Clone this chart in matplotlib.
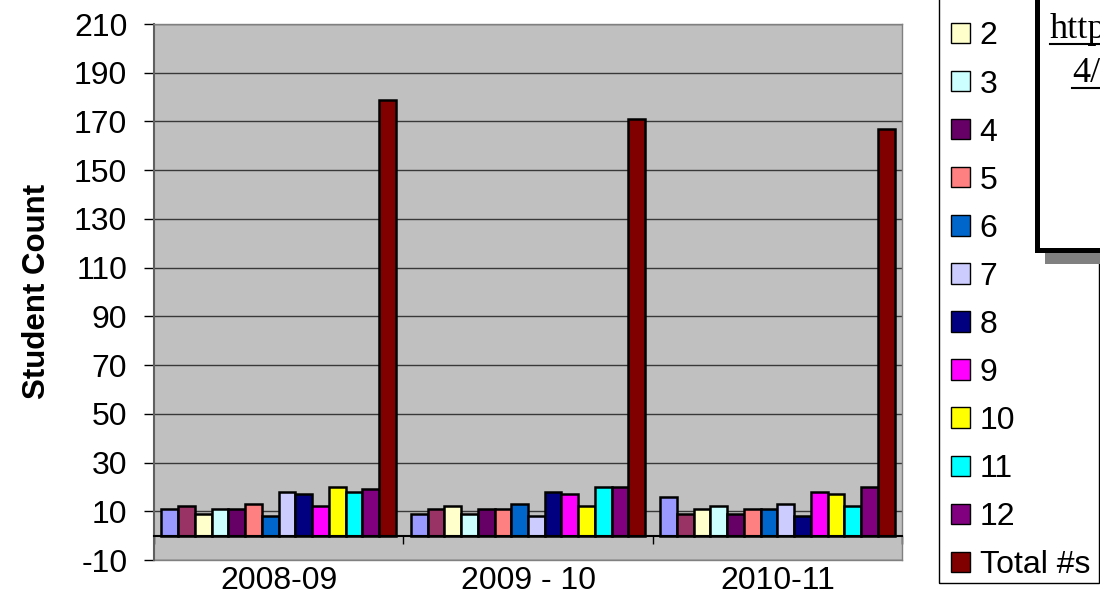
import matplotlib
matplotlib.use('Agg')
import matplotlib.pyplot as plt
from matplotlib.patches import Rectangle
from matplotlib.lines import Line2D
import numpy as np

plt.rcParams['font.family'] = ['Liberation Sans', 'DejaVu Sans']
plt.rcParams['axes.unicode_minus'] = False

categories = ['2008-09', '2009 - 10', '2010-11']
series_names = ['K', '1', '2', '3', '4', '5', '6', '7', '8', '9', '10', '11', '12', 'Total #s']
grade_K = [11, 9, 16]
grade_1 = [12, 11, 9]
grade_2 = [9, 12, 11]
grade_3 = [11, 9, 12]
grade_4 = [11, 11, 9]
grade_5 = [13, 11, 11]
grade_6 = [8, 13, 11]
grade_7 = [18, 8, 13]
grade_8 = [17, 18, 8]
grade_9 = [12, 17, 18]
grade_10 = [20, 12, 17]
grade_11 = [18, 20, 12]
grade_12 = [19, 20, 20]
total_counts = [179, 171, 167]
series_values = [grade_K, grade_1, grade_2, grade_3, grade_4, grade_5, grade_6,
                 grade_7, grade_8, grade_9, grade_10, grade_11, grade_12, total_counts]
series_colors = ['#9999FF', '#993366', '#FFFFCC', '#CCFFFF', '#660066', '#FF8080',
                 '#0066CC', '#CCCCFF', '#000080', '#FF00FF', '#FFFF00', '#00FFFF',
                 '#800080', '#800000']
y_ticks = list(range(-10, 211, 20))
# the legend's first entries (K, 1) lie above the visible area in the reference
first_visible_legend_entry = 2

W, H = 1100, 598
fig = plt.figure(figsize=(11, 5.98), dpi=100)
fig.patch.set_facecolor('white')

ax = fig.add_axes([154 / W, 1 - 560 / H, 748 / W, 536 / H])
ax.set_facecolor('#C0C0C0')

n = len(series_names)
span = 0.94
bw = span / n
x = np.arange(len(categories))
handles = []
for k, (name, vals, col) in enumerate(zip(series_names, series_values, series_colors)):
    b = ax.bar(x - span / 2 + bw * (k + 0.5), vals, width=bw, color=col,
               edgecolor='black', linewidth=1.8, zorder=3, label=name)
    handles.append(b)

ax.set_xlim(-0.5, len(categories) - 0.5)
ax.set_ylim(-10, 210)
ax.set_yticks(y_ticks)
ax.yaxis.grid(True, color='#383838', linewidth=1.0, zorder=1)
ax.set_axisbelow(True)

for s in ['top', 'right']:
    ax.spines[s].set_color('#808080')
    ax.spines[s].set_linewidth(1.0)
ax.spines['left'].set_color('#606060')
ax.spines['left'].set_linewidth(1.5)
ax.spines['bottom'].set_position(('data', 0))
ax.spines['bottom'].set_color('black')
ax.spines['bottom'].set_linewidth(1.5)
ax.spines['bottom'].set_zorder(4)
ax.add_line(Line2D([0, 1], [0, 0], transform=ax.transAxes, color='#808080',
                   linewidth=1.0, clip_on=False))

ax.set_xticks(x)
ax.set_xticklabels(categories)
ax.set_xticks(np.arange(-0.5, len(categories), 1.0), minor=True)
ax.tick_params(axis='x', which='major', length=0, pad=22, labelsize=23)
ax.tick_params(axis='x', which='minor', length=6, width=1, direction='out', color='black')
ax.tick_params(axis='y', length=7.2, width=1, direction='out', pad=12, labelsize=23)

fig.text(37 / W, 1 - 291 / H, 'Student Count', rotation=90, ha='center', va='center',
         fontsize=22.5, fontweight='bold')

leg = fig.legend(handles=handles[first_visible_legend_entry:],
                 labels=series_names[first_visible_legend_entry:], loc='lower left',
                 bbox_to_anchor=(951 / W, 1 - 580 / H), bbox_transform=fig.transFigure,
                 frameon=False, fontsize=23, handlelength=0.6, handleheight=0.6,
                 handletextpad=0.3, labelspacing=0.565, borderpad=0, borderaxespad=0)
for h in leg.legend_handles:
    h.set_linewidth(1.0)

fig.patches.append(Rectangle((939 / W, 1 - 583 / H), 160 / W, 583 / H + 0.2,
                             transform=fig.transFigure, fill=False, edgecolor='black',
                             linewidth=1.0, zorder=6))

# text box with shadow
fig.patches.append(Rectangle((1045 / W, 1 - 264 / H), 0.2, 264 / H + 0.2,
                             transform=fig.transFigure, facecolor='#808080',
                             edgecolor='none', zorder=9))
fig.patches.append(Rectangle((1036.5 / W, 1 - 249.5 / H), 0.2, 249.5 / H + 0.2,
                             transform=fig.transFigure, facecolor='white',
                             edgecolor='black', linewidth=3.6, zorder=10))
t1 = fig.text(1050 / W, 1 - 38 / H, 'http', family='Liberation Serif', fontsize=26,
              ha='left', va='baseline', zorder=11)
t2 = fig.text(1072 / W, 1 - 82 / H, '4/', family='Liberation Serif', fontsize=26,
              ha='left', va='baseline', zorder=11)
fig.canvas.draw()
r = fig.canvas.get_renderer()
for t, yu in [(t1, 44), (t2, 88)]:
    bb = t.get_window_extent(r)
    fig.lines.append(Line2D([bb.x0 / W, min(bb.x1, W) / W], [1 - yu / H, 1 - yu / H],
                            transform=fig.transFigure, color='black', linewidth=1.5,
                            zorder=11))

fig.savefig('out.png', dpi=100)
